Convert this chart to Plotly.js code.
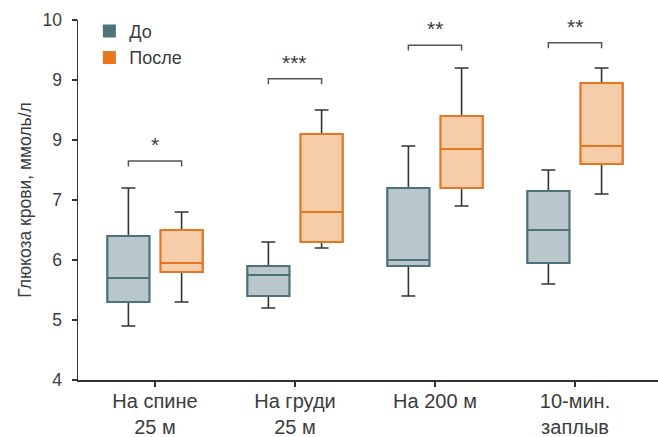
<!DOCTYPE html>
<html><head><meta charset="utf-8">
<script src="https://cdn.plot.ly/plotly-3.0.1.min.js"></script>
<style>html,body{margin:0;padding:0;background:#fff}#chart{width:658px;height:437px}</style>
</head><body><div id="chart"></div>
<script>
// Data
var categories = ['На спине<br>25 м', 'На груди<br>25 м', 'На 200 м', '10-мин.<br>заплыв'];
var beforeMin    = [4.9, 5.2, 5.4, 5.6];
var beforeQ1     = [5.3, 5.4, 5.9, 5.95];
var beforeMedian = [5.7, 5.75, 6.0, 6.5];
var beforeQ3     = [6.4, 5.9, 7.2, 7.15];
var beforeMax    = [7.2, 6.3, 7.9, 7.5];
var afterMin     = [5.3, 6.2, 6.9, 7.1];
var afterQ1      = [5.8, 6.3, 7.2, 7.6];
var afterMedian  = [5.95, 6.8, 7.85, 7.9];
var afterQ3      = [6.5, 8.1, 8.4, 8.95];
var afterMax     = [6.8, 8.5, 9.2, 9.2];
var significance = ['*', '***', '**', '**'];
var bracketY     = [7.65, 9.02, 9.58, 9.62];
var yTickVals    = [4, 5, 6, 7, 8, 9, 10];
var yTickText    = ['4', '5', '6', '7', '9', '9', '10'];
var seriesNames  = ['До', 'После'];

var textColor = '#3c3c3c';
var font = 'Liberation Sans, Arial, sans-serif';
var beforeLine = '#4b7378', beforeFill = '#b9c6cb';
var afterLine = '#e8761e', afterFill = '#f6cda9';
var whiskerColor = '#333333';

function whiskerTrace(lo, q1, med, q3, hi, grp) {
  return {type: 'box', x: categories, lowerfence: lo, q1: q1, median: med, q3: q3, upperfence: hi,
    offsetgroup: grp, line: {color: whiskerColor, width: 1.6}, fillcolor: 'rgba(0,0,0,0)',
    whiskerwidth: 0.33, showlegend: false, hoverinfo: 'skip', boxpoints: false};
}
function bodyTrace(q1, med, q3, grp, lc, fc) {
  return {type: 'box', x: categories, lowerfence: q1, q1: q1, median: med, q3: q3, upperfence: q3,
    offsetgroup: grp, line: {color: lc, width: 2}, fillcolor: fc,
    whiskerwidth: 0, showlegend: false, boxpoints: false};
}

var traces = [
  whiskerTrace(beforeMin, beforeQ1, beforeMedian, beforeQ3, beforeMax, 'b'),
  whiskerTrace(afterMin, afterQ1, afterMedian, afterQ3, afterMax, 'a'),
  bodyTrace(beforeQ1, beforeMedian, beforeQ3, 'b', beforeLine, beforeFill),
  bodyTrace(afterQ1, afterMedian, afterQ3, 'a', afterLine, afterFill),
  {type: 'scatter', mode: 'markers', x: [null], y: [null], name: seriesNames[0],
   marker: {symbol: 'square', size: 13, color: beforeLine}},
  {type: 'scatter', mode: 'markers', x: [null], y: [null], name: seriesNames[1],
   marker: {symbol: 'square', size: 13, color: afterLine}}
];

var OFF = 0.19, DROP = 0.09;
var shapes = [], annotations = [];
significance.forEach(function (s, i) {
  var y = bracketY[i];
  shapes.push({type: 'path', xref: 'x', yref: 'y',
    path: 'M' + (i - OFF) + ',' + (y - DROP) + ' L' + (i - OFF) + ',' + y +
          ' L' + (i + OFF) + ',' + y + ' L' + (i + OFF) + ',' + (y - DROP),
    line: {color: '#555555', width: 1.5}});
  annotations.push({xref: 'x', yref: 'y', x: i, y: y, yshift: 3, yanchor: 'bottom',
    text: s, showarrow: false, font: {family: font, size: 21, color: textColor}});
});

var layout = {
  width: 658, height: 437,
  margin: {l: 78, r: 0, t: 20, b: 57},
  paper_bgcolor: '#fff', plot_bgcolor: '#fff',
  boxmode: 'group', boxgap: 0.24, boxgroupgap: 0.21,
  font: {family: font, color: textColor},
  xaxis: {type: 'category', range: [-0.55, 3.593], showgrid: false, zeroline: false,
    showline: true, linecolor: '#333', linewidth: 1.5,
    ticks: 'outside', ticklen: 5, tickcolor: '#333', tickwidth: 1.2, ticklabelstandoff: -3,
    tickfont: {family: font, size: 20, color: textColor}, fixedrange: true},
  yaxis: {range: [4, 10], tickvals: yTickVals, ticktext: yTickText, showgrid: false, zeroline: false,
    showline: true, linecolor: '#333', linewidth: 1.5,
    ticks: 'outside', ticklen: 5, tickcolor: '#333', tickwidth: 1.2, ticklabelstandoff: 6,
    tickfont: {family: font, size: 17.5, color: textColor},
    title: {text: 'Глюкоза крови, ммоль/л', font: {family: font, size: 17.5, color: textColor}, standoff: 6}},
  showlegend: true,
  legend: {x: 0.0196, y: 1.02, xanchor: 'left', yanchor: 'top', bgcolor: 'rgba(0,0,0,0)',
    font: {family: font, size: 18, color: textColor}, tracegroupgap: 0},
  shapes: shapes, annotations: annotations
};

Plotly.newPlot('chart', traces, layout, {staticPlot: true, displayModeBar: false});
</script></body></html>
